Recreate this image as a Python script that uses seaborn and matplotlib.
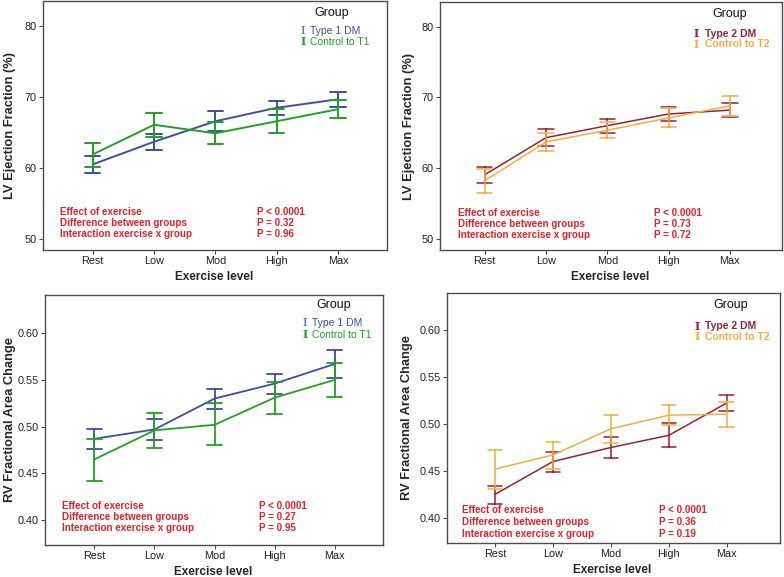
import numpy as np
import pandas as pd
import matplotlib
matplotlib.use("Agg")
import matplotlib.pyplot as plt
import seaborn as sns

levels = ["Rest", "Low", "Mod", "High", "Max"]

# LV ejection fraction, type 1 vs control (mean, lower, upper)
lv_t1_mean = [60.5, 63.7, 66.6, 68.5, 69.7]
lv_t1_lo = [59.35, 62.5, 65.2, 67.5, 68.6]
lv_t1_hi = [61.65, 64.85, 68.0, 69.5, 70.8]
lv_c1_mean = [61.9, 66.1, 64.9, 66.6, 68.3]
lv_c1_lo = [60.15, 64.4, 63.4, 64.9, 67.1]
lv_c1_hi = [63.5, 67.8, 66.5, 68.3, 69.6]

# LV ejection fraction, type 2 vs control
lv_t2_mean = [59.05, 64.3, 66.0, 67.65, 68.2]
lv_t2_lo = [57.9, 63.1, 65.0, 66.6, 67.2]
lv_t2_hi = [60.2, 65.5, 67.0, 68.7, 69.2]
lv_c2_mean = [58.2, 63.7, 65.35, 67.1, 68.8]
lv_c2_lo = [56.5, 62.4, 64.3, 65.75, 67.35]
lv_c2_hi = [59.9, 64.9, 66.45, 68.45, 70.25]

# RV fractional area change, type 1 vs control
rv_t1_mean = [0.487, 0.497, 0.530, 0.546, 0.567]
rv_t1_lo = [0.476, 0.486, 0.519, 0.535, 0.552]
rv_t1_hi = [0.497, 0.508, 0.540, 0.556, 0.582]
rv_c1_mean = [0.465, 0.496, 0.502, 0.531, 0.550]
rv_c1_lo = [0.442, 0.477, 0.480, 0.513, 0.532]
rv_c1_hi = [0.487, 0.515, 0.525, 0.548, 0.568]

# RV fractional area change, type 2 vs control
rv_t2_mean = [0.425, 0.460, 0.475, 0.488, 0.5225]
rv_t2_lo = [0.415, 0.449, 0.464, 0.475, 0.514]
rv_t2_hi = [0.434, 0.470, 0.486, 0.501, 0.531]
rv_c2_mean = [0.452, 0.467, 0.495, 0.5095, 0.5105]
rv_c2_lo = [0.431, 0.452, 0.480, 0.499, 0.497]
rv_c2_hi = [0.472, 0.481, 0.510, 0.520, 0.524]

stats_labels = ["Effect of exercise", "Difference between groups", "Interaction exercise x group"]
p_lv_t1 = ["P < 0.0001", "P = 0.32", "P = 0.96"]
p_lv_t2 = ["P < 0.0001", "P = 0.73", "P = 0.72"]
p_rv_t1 = ["P < 0.0001", "P = 0.27", "P = 0.95"]
p_rv_t2 = ["P < 0.0001", "P = 0.36", "P = 0.19"]

BLUE = "#3d4fa3"
GREEN = "#23a123"
DARKRED = "#96213a"
ORANGE = "#f6ac3e"
RED = "#e8202a"


def long_df(groups):
    # three rows per point: lower, mean, upper -> median gives mean, full range gives the bar
    rows = []
    for name, mean, lo, hi in groups:
        for lev, m, l, h in zip(levels, mean, lo, hi):
            for v in (l, m, h):
                rows.append({"level": lev, "group": name, "value": v})
    return pd.DataFrame(rows)


sns.set_style("white")
plt.rcParams["font.family"] = ["Liberation Sans", "DejaVu Sans"]

W, H = 784, 577
fig = plt.figure(figsize=(W / 100, H / 100), dpi=100)


def make_axes(left, right, top, bottom):
    return fig.add_axes([left / W, 1 - bottom / H, (right - left) / W, (bottom - top) / H])


panels = [
    dict(box=(43, 387, 1, 250), xlim=(-0.81, 4.80), ylim=(48.4, 83.6), yticks=[50, 60, 70, 80],
         fmt="{:.0f}", ylabel="LV Ejection Fraction (%)", ylab_x=-0.096,
         groups=[("Type 1 DM", lv_t1_mean, lv_t1_lo, lv_t1_hi), ("Control to T1", lv_c1_mean, lv_c1_lo, lv_c1_hi)],
         colors=[BLUE, GREEN], bold=False, pvals=p_lv_t1, lw=1.4,
         txt_x=0.05, p_x=0.622, txt_y=[0.152, 0.108, 0.064],
         leg=(0.84, 0.953, 0.756, 0.776, [0.88, 0.837])),
    dict(box=(440, 782, 2, 250), xlim=(-0.73, 4.85), ylim=(48.4, 83.5), yticks=[50, 60, 70, 80],
         fmt="{:.0f}", ylabel="LV Ejection Fraction (%)", ylab_x=-0.0915,
         groups=[("Type 2 DM", lv_t2_mean, lv_t2_lo, lv_t2_hi), ("Control to T2", lv_c2_mean, lv_c2_lo, lv_c2_hi)],
         colors=[DARKRED, ORANGE], bold=True, pvals=p_lv_t2, lw=1.1,
         txt_x=0.053, p_x=0.625, txt_y=[0.15, 0.106, 0.062],
         leg=(0.846, 0.95, 0.749, 0.776, [0.871, 0.829])),
    dict(box=(45, 383, 295, 545), xlim=(-0.82, 4.80), ylim=(0.3736, 0.6406), yticks=[0.40, 0.45, 0.50, 0.55, 0.60],
         fmt="{:.2f}", ylabel="RV Fractional Area Change", ylab_x=-0.1035,
         groups=[("Type 1 DM", rv_t1_mean, rv_t1_lo, rv_t1_hi), ("Control to T1", rv_c1_mean, rv_c1_lo, rv_c1_hi)],
         colors=[BLUE, GREEN], bold=False, pvals=p_rv_t1, lw=1.3,
         txt_x=0.05, p_x=0.633, txt_y=[0.155, 0.11, 0.068],
         leg=(0.855, 0.961, 0.769, 0.789, [0.888, 0.841])),
    dict(box=(447, 780, 293, 543), xlim=(-0.83, 4.92), ylim=(0.373, 0.640), yticks=[0.40, 0.45, 0.50, 0.55, 0.60],
         fmt="{:.2f}", ylabel="RV Fractional Area Change", ylab_x=-0.119,
         groups=[("Type 2 DM", rv_t2_mean, rv_t2_lo, rv_t2_hi), ("Control to T2", rv_c2_mean, rv_c2_lo, rv_c2_hi)],
         colors=[DARKRED, ORANGE], bold=True, pvals=p_rv_t2, lw=1.1,
         txt_x=0.045, p_x=0.636, txt_y=[0.131, 0.083, 0.036],
         leg=(0.851, 0.951, 0.751, 0.776, [0.867, 0.824])),
]

for p in panels:
    ax = make_axes(*p["box"])
    df = long_df(p["groups"])
    names = [g[0] for g in p["groups"]]
    sns.pointplot(data=df, x="level", y="value", hue="group", order=levels, hue_order=names,
                  estimator="median", errorbar=("pi", 100), capsize=0.25,
                  palette=p["colors"], markersize=0, linewidth=p["lw"],
                  err_kws={"linewidth": p["lw"]}, legend=False, ax=ax)
    ax.set_xlim(*p["xlim"])
    ax.set_ylim(*p["ylim"])
    ax.set_yticks(p["yticks"])
    ax.set_yticklabels([p["fmt"].format(t) for t in p["yticks"]])
    for s in ax.spines.values():
        s.set_color("#4d4d4d")
        s.set_linewidth(1.0)
        s.set_visible(True)
    ax.tick_params(axis="both", direction="out", length=3, width=0.8, color="#4d4d4d",
                   labelsize=7.8, labelcolor="#222222", pad=1.5, left=True, bottom=True)
    ax.set_xlabel("Exercise level", fontsize=8.5, fontweight="bold", va="center")
    ax.xaxis.set_label_coords(0.497, -0.108)
    ax.set_ylabel(p["ylabel"], fontsize=9.3, fontweight="bold", va="center")
    ax.yaxis.set_label_coords(p["ylab_x"], 0.5)

    # stats block
    for lab, pv, yy in zip(stats_labels, p["pvals"], p["txt_y"]):
        ax.text(p["txt_x"], yy, lab, transform=ax.transAxes, color=RED, fontsize=7.1,
                fontweight="bold", va="center")
        ax.text(p["p_x"], yy, pv, transform=ax.transAxes, color=RED, fontsize=7.1,
                fontweight="bold", va="center")

    # legend drawn by hand
    gx, gy, ix, tx, rows = p["leg"]
    ax.text(gx, gy, "Group", transform=ax.transAxes, fontsize=9, ha="center", va="center", color="#111111")
    for name, col, yy in zip(names, p["colors"], rows):
        ax.text(ix, yy, "I", transform=ax.transAxes, fontsize=8, ha="center", va="center",
                color=col, family=["DejaVu Serif"], fontweight="bold" if p["bold"] or col == GREEN else "normal")
        ax.text(tx, yy, name, transform=ax.transAxes, fontsize=7.5, va="center", color=col,
                fontweight="bold" if p["bold"] else "normal")

fig.savefig("out.png", dpi=100, facecolor="white")
